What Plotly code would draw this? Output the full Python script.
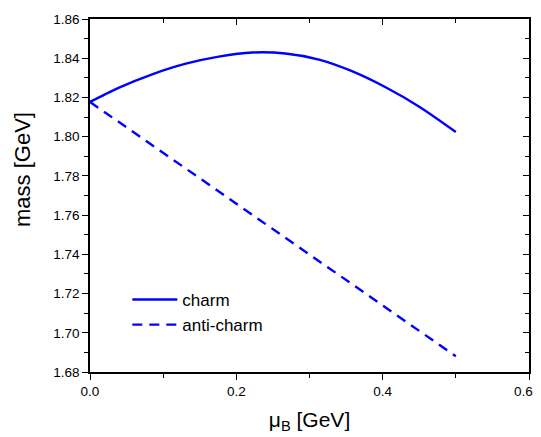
import plotly.graph_objects as go

mu_charm = [0.0, 0.039, 0.085, 0.131, 0.176, 0.222, 0.267, 0.313, 0.358, 0.404, 0.450, 0.5]
m_charm = [1.8177, 1.8249, 1.8318, 1.8372, 1.8408, 1.8429, 1.8424, 1.8393, 1.8334, 1.8252, 1.8153, 1.8024]

mu_anti = [0.0, 0.1, 0.2, 0.2664, 0.3, 0.4, 0.5]
m_anti = [1.8177, 1.7917, 1.7658, 1.7488, 1.7399, 1.7139, 1.6880]

x_ticks = [0, 0.2, 0.4, 0.6]
# last label padded with no-break spaces so it is not cut at the page edge
x_tick_text = ["0.0", "0.2", "0.4", "0.6\u00a0\u00a0\u00a0"]

FONT = "Liberation Sans, Arial, sans-serif"
BLUE = "#0000FF"

fig = go.Figure()
fig.add_trace(go.Scatter(x=mu_charm, y=m_charm, mode="lines", name="charm",
                         line=dict(color=BLUE, width=2.4, shape="spline", smoothing=0.8)))
fig.add_trace(go.Scatter(x=mu_anti, y=m_anti, mode="lines", name="anti-charm",
                         line=dict(color=BLUE, width=2.4, dash="10px,7px")))
# empty trace so the mirrored (top/right) frame axes are drawn
fig.add_trace(go.Scatter(x=[None], y=[None], xaxis="x2", yaxis="y2",
                         showlegend=False, hoverinfo="skip"))

axis_common = dict(showline=True, linecolor="black", linewidth=1.5, showgrid=False,
                   zeroline=False, automargin=False, tickcolor="black", tickwidth=1)

# the page body has an 8px margin, so the figure is offset by 8px
fig.update_layout(
    width=533, height=429,
    margin=dict(l=82, r=12, t=11, b=65, autoexpand=False),
    plot_bgcolor="white", paper_bgcolor="white",
    font=dict(family=FONT, color="black"),
    showlegend=True,
    legend=dict(x=0.085, y=0.255, xanchor="left", yanchor="top",
                bgcolor="rgba(0,0,0,0)", font=dict(size=17, family=FONT),
                tracegroupgap=0, itemwidth=45),
    xaxis=dict(range=[0, 0.6], tickvals=x_ticks, ticktext=x_tick_text,
               ticks="outside", ticklen=6, ticklabeloverflow="allow",
               minor=dict(dtick=0.1, ticks="outside", ticklen=4, tickcolor="black"),
               tickfont=dict(size=13.5),
               title=dict(text="μ<sub>B</sub> [GeV]", font=dict(size=21), standoff=14),
               **axis_common),
    yaxis=dict(range=[1.68, 1.86], dtick=0.02, tickformat=".2f",
               ticks="outside", ticklen=6, ticklabeloverflow="allow",
               minor=dict(dtick=0.01, ticks="outside", ticklen=4, tickcolor="black"),
               tickfont=dict(size=13.5),
               **axis_common),
    xaxis2=dict(range=[0, 0.6], overlaying="x", side="top", anchor="y2", dtick=0.2,
                ticks="inside", ticklen=6, showticklabels=False,
                minor=dict(dtick=0.1, ticks="inside", ticklen=4, tickcolor="black"),
                **axis_common),
    yaxis2=dict(range=[1.68, 1.86], overlaying="y", side="right", anchor="x2", dtick=0.02,
                ticks="inside", ticklen=6, showticklabels=False,
                minor=dict(dtick=0.01, ticks="inside", ticklen=4, tickcolor="black"),
                **axis_common),
    annotations=[dict(text="mass [GeV]", textangle=-90, xref="paper", yref="paper",
                      x=-0.155, y=0.575, xanchor="center", yanchor="middle",
                      showarrow=False, font=dict(size=22, family=FONT))],
)

fig.write_html("out.html")
